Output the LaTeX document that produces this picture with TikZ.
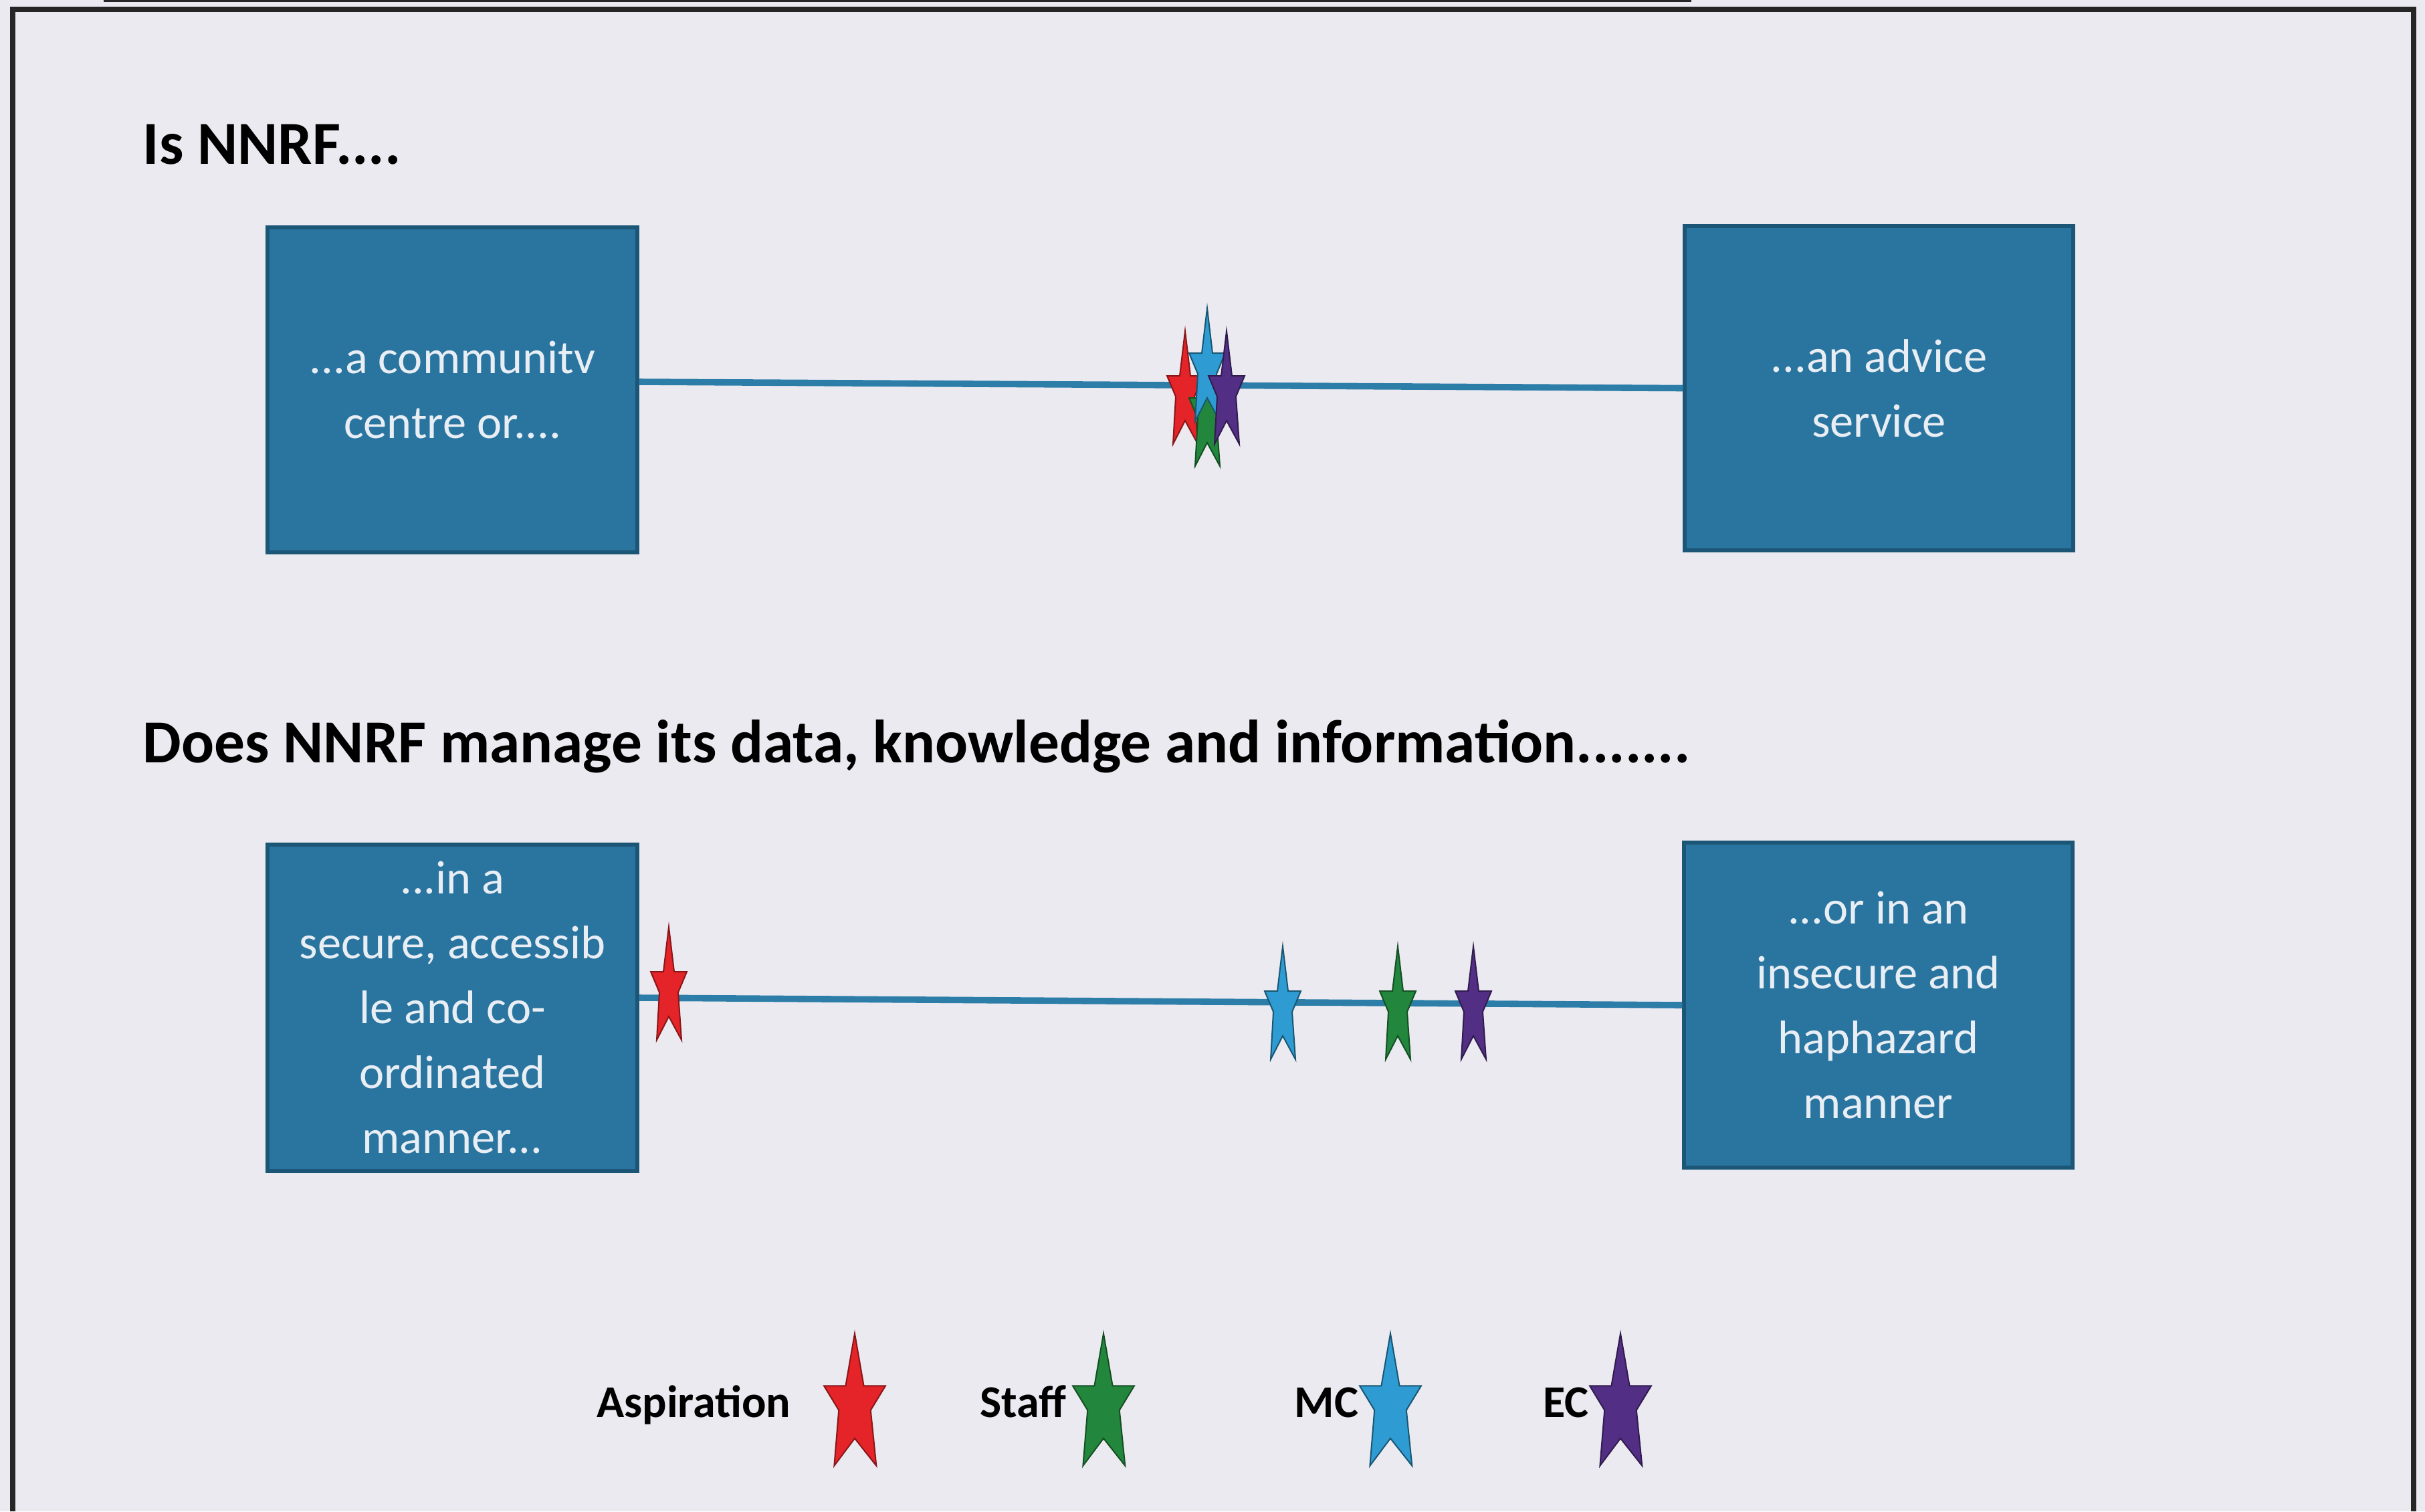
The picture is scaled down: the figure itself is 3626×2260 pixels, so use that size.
\documentclass[tikz,border=0pt]{standalone}
\usepackage{fontspec}
\setmainfont{Carlito}
\definecolor{paper}{RGB}{235,234,240}
\definecolor{boxblue}{RGB}{42,117,160}
\definecolor{boxedge}{RGB}{28,86,118}
\definecolor{linkblue}{RGB}{44,125,168}
\definecolor{boxtext}{RGB}{232,238,244}
\definecolor{aspred}{RGB}{228,36,40}
\definecolor{staffgreen}{RGB}{34,134,60}
\definecolor{mcblue}{RGB}{46,156,210}
\definecolor{ecpurple}{RGB}{82,46,132}
\tikzset{
  scalebox/.style={draw=boxedge, line width=1.3pt, fill=boxblue, text=boxtext,
    align=center, inner sep=0pt,
    font=\fontsize{17.6}{24.25}\selectfont},
  heading/.style={anchor=base west, inner sep=0pt,
    font=\fontsize{22.85}{27}\selectfont\bfseries},
  keytext/.style={anchor=base east, inner sep=0pt,
    font=\fontsize{17}{20}\selectfont\bfseries},
  link/.style={draw=linkblue, line width=2.4pt},
  pics/vstar/.style={code={
    \path[pic actions] (0,-82) -- (8,-15) -- (27,-15) -- (14,16) -- (19,87)
      -- (0,52) -- (-18,87) -- (-14,16) -- (-27,-15) -- (-8,-15) -- cycle;}},
  redstar/.style={fill=aspred, draw=aspred!60!black, line width=0.5pt},
  greenstar/.style={fill=staffgreen, draw=staffgreen!60!black, line width=0.5pt},
  bluestar/.style={fill=mcblue, draw=mcblue!55!black, line width=0.5pt},
  purplestar/.style={fill=ecpurple, draw=ecpurple!60!black, line width=0.5pt},
  keystar/.style={xscale=1.7, yscale=1.17}
}
\begin{document}
\begin{tikzpicture}[x=0.25pt, y=-0.25pt]
  % page and frame
  \useasboundingbox (0,0) rectangle (3626,2260);
  \fill[paper] (0,0) rectangle (3626,2260);
  \fill[black!85] (155,0) rectangle (2529,3);
  \draw[black!85, line width=2pt] (19,2260) -- (19,14) -- (3609,14) -- (3609,2260);

  % first question
  \node[heading] (q1) at (213,245) {Is NNRF....};
  \node[scalebox, minimum width=138.25pt, minimum height=121.5pt] (tl) at (676.5,583)
    {...a communitv\\centre or....};
  \node[scalebox, minimum width=145.25pt, minimum height=121.25pt] (tr) at (2809.5,580.5)
    {...an advice\\service};
  \draw[link] ([yshift=3pt]tl.east) -- (tr.west);

  % ratings on the first scale
  \pic[redstar] at (1772,577) {vstar};
  \pic[greenstar] at (1805,610) {vstar};
  \pic[bluestar] at (1805,543) {vstar};
  \pic[purplestar] at (1834,577) {vstar};

  % second question
  \node[heading] (q2) at (213,1140) {Does NNRF manage its data, knowledge and information.......};
  \node[scalebox, minimum width=138.25pt, minimum height=122pt] (bl) at (676.5,1507)
    {...in a\\secure, accessib\\le and co-\\ordinated\\manner...};
  \node[scalebox, minimum width=145.25pt, minimum height=121.5pt] (br) at (2808.5,1503)
    {...or in an\\insecure and\\haphazard\\manner};
  \draw[link] ([yshift=3.75pt]bl.east) -- (br.west);

  % ratings on the second scale
  \pic[redstar] at (1000,1468) {vstar};
  \pic[bluestar] at (1918,1497) {vstar};
  \pic[greenstar] at (2090,1497) {vstar};
  \pic[purplestar] at (2203,1497) {vstar};

  % key
  \node[keytext] (k1) at (1183,2119) {Aspiration};
  \pic[redstar, keystar] at (1278,2090) {vstar};
  \node[keytext] (k2) at (1595,2119) {Staff};
  \pic[greenstar, keystar] at (1650,2090) {vstar};
  \node[keytext] (k3) at (2032,2119) {MC};
  \pic[bluestar, keystar] at (2079,2090) {vstar};
  \node[keytext] (k4) at (2376,2119) {EC};
  \pic[purplestar, keystar] at (2423,2090) {vstar};
\end{tikzpicture}
\end{document}
